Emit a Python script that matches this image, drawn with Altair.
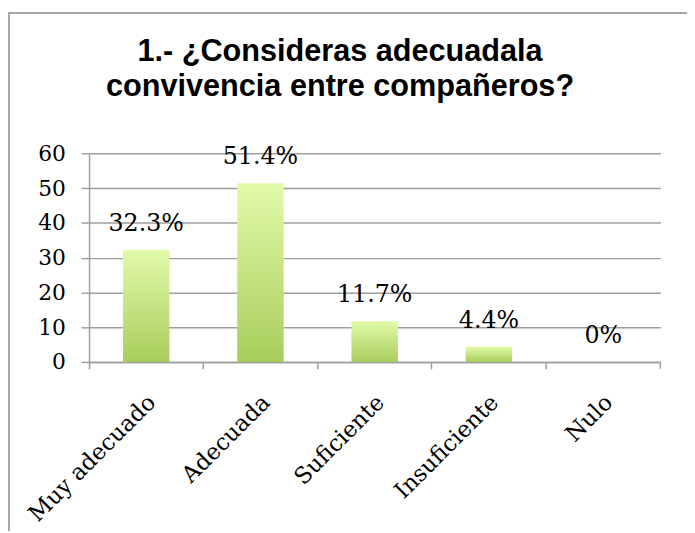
import altair as alt
import pandas as pd

categories = ["Muy adecuado", "Adecuada", "Suficiente", "Insuficiente", "Nulo"]
values = [32.3, 51.4, 11.7, 4.4, 0]
labels = ["32.3%", "51.4%", "11.7%", "4.4%", "0%"]
y_ticks = [0, 10, 20, 30, 40, 50, 60]
title_lines = ["1.- ¿Consideras adecuadala", "convivencia entre compañeros?"]

df = pd.DataFrame({"cat": categories, "val": values, "lab": labels})

W, H = 578, 211
GRAY = "#9e9e9e"
SERIF = "DejaVu Serif"

x_enc = alt.X(
    "cat:N", sort=categories,
    scale=alt.Scale(paddingInner=0, paddingOuter=0),
    axis=alt.Axis(
        title=None, labelAngle=-45, labelAlign="right", labelBaseline="middle",
        labelFont=SERIF, labelFontSize=23, labelColor="black",
        labelPadding=30, labelOffset=6, bandPosition=0,
        ticks=True, tickSize=7, tickColor=GRAY, tickWidth=1.5,
        domainColor=GRAY, domainWidth=1.5, grid=False,
    ),
)
y_enc = alt.Y(
    "val:Q",
    scale=alt.Scale(domain=[0, 60], nice=False),
    axis=alt.Axis(
        title=None, values=y_ticks, tickCount=7, labelFont=SERIF, labelFontSize=22,
        labelColor="black", labelPadding=16, labelOverlap=False,
        tickSize=8, tickColor=GRAY, tickWidth=1.5,
        domainColor=GRAY, domainWidth=1.5, grid=True, gridColor=GRAY, gridWidth=1.5,
    ),
)

grad = alt.Gradient(
    gradient="linear",
    stops=[alt.GradientStop(color="#e2faaa", offset=0),
           alt.GradientStop(color="#a8cd5b", offset=1)],
    x1=0, x2=0, y1=0, y2=1,
)

base = alt.Chart(df)
bars = base.mark_bar(size=47, color=grad).encode(x=x_enc, y=y_enc)
text = base.mark_text(font=SERIF, fontSize=24, baseline="alphabetic",
                      dy=-19, color="black").encode(
    x=x_enc, y=y_enc, text="lab:N")

one = pd.DataFrame({"k": [0]})

frame = alt.Chart(one).mark_rect(
    fillOpacity=0, stroke="#a6a6a6", strokeWidth=2).encode(
    x=alt.value(-81), x2=alt.value(760), y=alt.value(-142), y2=alt.value(700))

end_tick = alt.Chart(one).mark_rule(color=GRAY, strokeWidth=1.5).encode(
    x=alt.value(W), y=alt.value(H), y2=alt.value(H + 7))

title = alt.Chart(one).mark_text(
    font="Liberation Sans", fontSize=31, fontWeight="bold", lineHeight=35,
    align="center", baseline="alphabetic", color="black").encode(
    x=alt.value(254), y=alt.value(-93), text=alt.value(title_lines))

chart = alt.layer(frame, bars, text, end_tick, title).properties(
    width=W, height=H,
    autosize=alt.AutoSizeParams(type="none"),
    padding={"left": 82, "top": 144, "right": 27, "bottom": 168},
).configure_view(strokeWidth=0)

chart.save("out.html", embed_options={"renderer": "svg", "actions": False})
